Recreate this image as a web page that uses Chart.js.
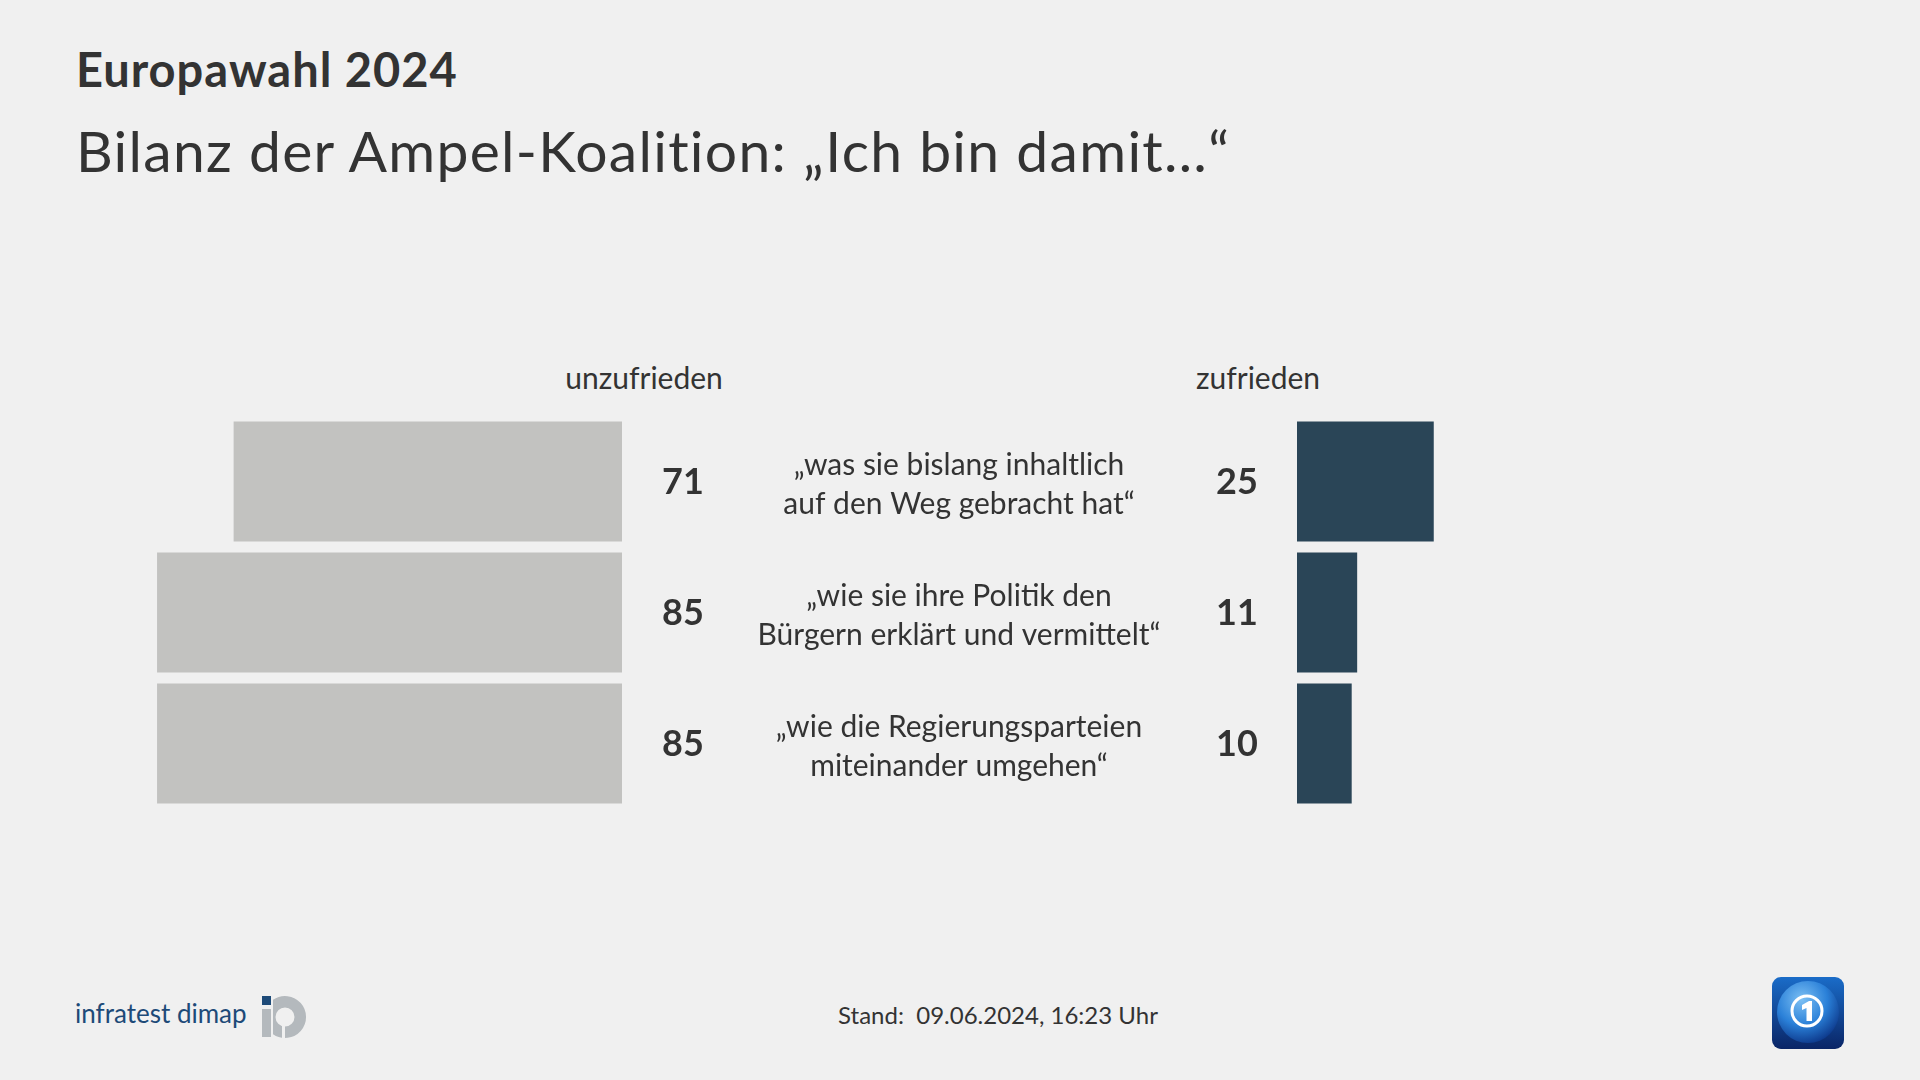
<!DOCTYPE html>
<html lang="de">
<head>
<meta charset="utf-8">
<title>Europawahl 2024 - Bilanz der Ampel-Koalition</title>
<script src="https://cdn.jsdelivr.net/npm/chart.js@4.4.1/dist/chart.umd.min.js"></script>
<style>
    html, body {
        margin: 0;
        padding: 0;
        width: 1920px;
        height: 1080px;
        background: #f0f0f0;
        overflow: hidden;
        font-family: Lato, "Open Sans", sans-serif;
        color: #333333;
    }
    .txt {
        position: absolute;
        line-height: 1;
        white-space: pre;
    }
    .center {
        transform: translateX(-50%);
    }
    canvas {
        position: absolute;
    }
</style>
</head>
<body>

<div class="txt" style="left:76px; top:46px; font-size:47px; font-weight:700; letter-spacing:1px;">Europawahl 2024</div>
<div class="txt" style="left:76px; top:122px; font-size:57px; letter-spacing:1.3px;">Bilanz der Ampel-Koalition: „Ich bin damit…“</div>

<div class="txt center" id="headLeft" style="left:644px; top:362px; font-size:30px;"></div>
<div class="txt center" id="headRight" style="left:1258px; top:362px; font-size:30px;"></div>

<canvas id="leftChart" width="1222" height="393" style="left:75px; top:416px;"></canvas>
<canvas id="rightChart" width="744" height="393" style="left:1100px; top:416px;"></canvas>

<!-- footer -->
<div class="txt" style="left:75px; top:1000px; font-size:26px; color:#1d4a78;">infratest dimap</div>
<svg style="position:absolute; left:258px; top:992px;" width="52" height="52" viewBox="0 0 52 52">
    <rect x="4" y="4" width="9" height="9" fill="#1d4a78"/>
    <rect x="4" y="17" width="9" height="28" fill="#b4b9bd"/>
    <path fill-rule="evenodd" fill="#b4b9bd"
          d="M15 7.8 A 21 21 0 1 1 15 42.2 Z M 36.5 25 A 9.5 9.5 0 1 0 17.5 25 A 9.5 9.5 0 1 0 36.5 25 Z"/>
    <rect x="24" y="34" width="3" height="13" fill="#f0f0f0"/>
</svg>
<div class="txt center" id="stand" style="left:998px; top:1003px; font-size:24px;"></div>

<svg style="position:absolute; left:1772px; top:977px;" width="72" height="72" viewBox="0 0 72 72">
    <defs>
        <linearGradient id="ardBg" x1="0" y1="0" x2="0" y2="1">
            <stop offset="0" stop-color="#1a6cc8"/>
            <stop offset="1" stop-color="#0a2566"/>
        </linearGradient>
        <radialGradient id="ardGlobe" cx="0.4" cy="0.3" r="0.75">
            <stop offset="0" stop-color="#7cc0f4"/>
            <stop offset="0.55" stop-color="#2a80d8"/>
            <stop offset="1" stop-color="#0b3486"/>
        </radialGradient>
    </defs>
    <rect x="0" y="0" width="72" height="72" rx="9" fill="url(#ardBg)"/>
    <circle cx="36" cy="35" r="31" fill="url(#ardGlobe)"/>
    <circle cx="35" cy="34" r="15" fill="none" stroke="#ffffff" stroke-width="3"/>
    <path d="M30 28 L37 24 L40 24 L40 44 L34.5 44 L34.5 31 L30 33 Z" fill="#ffffff"/>
</svg>

<script>
// Werte in Prozent
const statements = [
    ["„was sie bislang inhaltlich", "auf den Weg gebracht hat“"],
    ["„wie sie ihre Politik den", "Bürgern erklärt und vermittelt“"],
    ["„wie die Regierungsparteien", "miteinander umgehen“"]
];
const unzufrieden = [71, 85, 85];
const zufrieden = [25, 11, 10];
const headers = ["unzufrieden", "zufrieden"];
const standText = "Stand:  09.06.2024, 16:23 Uhr";

const greyBar = "#c2c2c0";
const darkBar = "#2a4557";
const textColor = "#333333";

document.getElementById("headLeft").textContent = headers[0];
document.getElementById("headRight").textContent = headers[1];
document.getElementById("stand").textContent = standText;

// zeichnet Zahlen (und Aussagen) neben die Balken
function labelPlugin(side) {
    return {
        id: "labels_" + side,
        afterDatasetsDraw(chart) {
            const ctx = chart.ctx;
            const area = chart.chartArea;
            const meta = chart.getDatasetMeta(0);
            const values = chart.data.datasets[0].data;
            ctx.save();
            ctx.fillStyle = textColor;
            ctx.textAlign = "center";
            ctx.textBaseline = "middle";
            meta.data.forEach((bar, i) => {
                ctx.font = "700 36px Lato";
                let x = side === "left" ? area.right + 61 : area.left - 60;
                ctx.fillText(values[i], x, bar.y + 1);
                if (side === "left") {
                    ctx.font = "400 30px Lato";
                    const lines = statements[i];
                    lines.forEach((line, j) => {
                        let y = bar.y + 3 + (j - (lines.length - 1) / 2) * 39;
                        ctx.fillText(line, 884, y);
                    });
                }
            });
            ctx.restore();
        }
    };
}

function makeChart(id, values, color, side) {
    return new Chart(document.getElementById(id), {
        type: "bar",
        data: {
            labels: statements.map(s => s.join(" ")),
            datasets: [{
                data: values,
                backgroundColor: color,
                borderWidth: 0,
                barPercentage: 0.916,
                categoryPercentage: 1
            }]
        },
        options: {
            indexAxis: "y",
            responsive: false,
            animation: false,
            layout: {
                padding: side === "left" ? { right: 675 } : { left: 197 }
            },
            scales: {
                x: { min: 0, max: 100, reverse: side === "left", display: false },
                y: { display: false }
            },
            plugins: {
                legend: { display: false },
                tooltip: { enabled: false }
            }
        },
        plugins: [labelPlugin(side)]
    });
}

function generatePage() {
    makeChart("leftChart", unzufrieden, greyBar, "left");
    makeChart("rightChart", zufrieden, darkBar, "right");
}

document.fonts.load("30px Lato").then(() => document.fonts.load("700 36px Lato")).then(generatePage, generatePage);
</script>
</body>
</html>
